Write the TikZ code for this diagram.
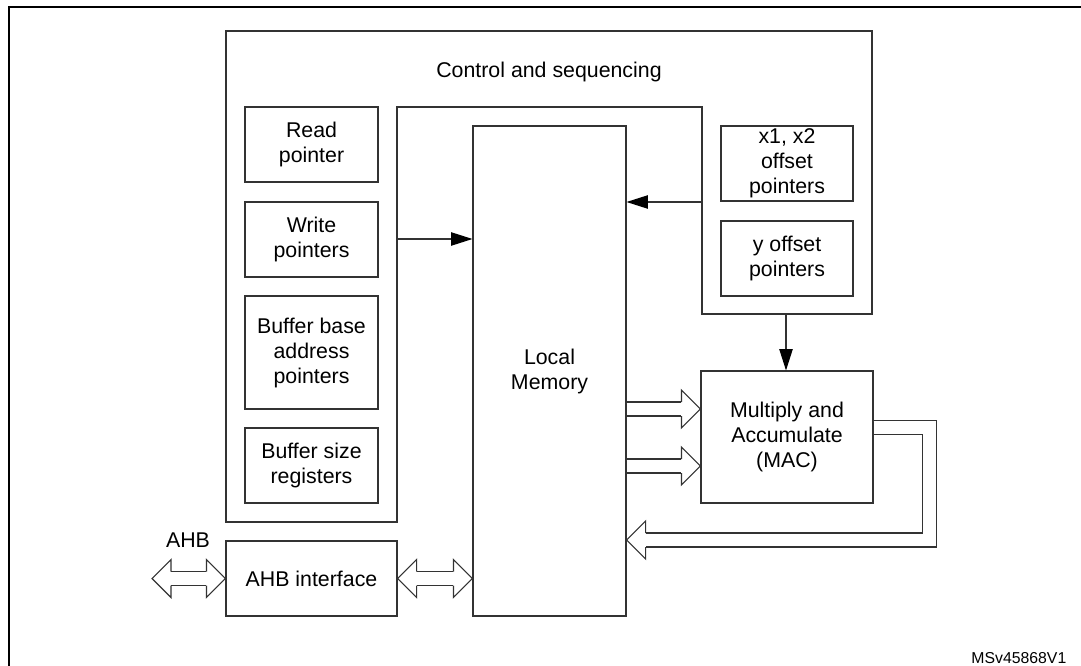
\documentclass[tikz,border=0pt]{standalone}
\usepackage{fontspec}
\setmainfont{Liberation Sans}
\usetikzlibrary{arrows.meta,calc}

\tikzset{
  box/.style={draw=black!80, line width=0.8pt, inner sep=0pt, align=center},
  ptr/.style={draw=black!80, line width=0.8pt, -{Triangle[length=16pt,width=10pt,color=black]}},
  bus/.style={draw=black!80, line width=0.8pt, double=white, double distance=9.7pt},
  head/.style={draw=black!80, line width=0.8pt, line join=miter},
}
% hollow arrow heads, tip pointing right / left
\newcommand{\headR}[1]{\draw[head] ($#1+(-19,7)$) -- ++(0,12) -- #1 -- ++(-19,-19) -- ++(0,12);}
\newcommand{\headL}[1]{\draw[head] ($#1+(19,7)$) -- ++(0,12) -- #1 -- ++(19,-19) -- ++(0,12);}

\begin{document}
\begin{tikzpicture}[x=0.75pt,y=-0.75pt,font=\fontsize{16}{18.75}\selectfont]
	\useasboundingbox (0,0) rectangle (1081,666);
	
	\draw[line width=1.5pt] (1081,7) -- (9,7) -- (9,666);
	
	% control and sequencing
	\draw[draw=black!80, line width=0.8pt] (226,31) -- (872,31) -- (872,314) -- (702,314) -- (702,107) -- (397,107) -- (397,522) -- (226,522) -- cycle;
	\node (ctl) at (549,72) {Control and sequencing};
	
	\node[box, minimum width=99.75pt, minimum height=56.25pt] (rd)   at (311.5,144.5) {Read\\pointer};
	\node[box, minimum width=99.75pt, minimum height=56.25pt] (wr)   at (311.5,239.5) {Write\\pointers};
	\node[box, minimum width=99.75pt, minimum height=84.75pt] (base) at (311.5,352.5) {Buffer base\\address\\pointers};
	\node[box, minimum width=99.75pt, minimum height=56.25pt] (size) at (311.5,465.5) {Buffer size\\registers};
	\node[box, minimum width=99pt, minimum height=56.25pt]    (xoff) at (787,163.5)   {x1, x2\\offset\\pointers};
	\node[box, minimum width=99pt, minimum height=56.25pt]    (yoff) at (787,258.5)   {y offset\\pointers};
	
	\node[box, minimum width=114.75pt, minimum height=367.5pt] (mem) at (549.5,371)   {Local\\Memory};
	\node[box, minimum width=129pt, minimum height=99pt]       (mac) at (787,437)     {Multiply and\\Accumulate\\(MAC)};
	\node[box, minimum width=128.25pt, minimum height=56.25pt] (ahb) at (311.5,578.5) {AHB interface};
	
	\node (bus) at (188,540) {AHB};
	\node[anchor=east, font=\fontsize{11.85}{14}\selectfont] (id) at (1071,658) {MSv45868V1};
	
	% control lines
	\coordinate (cl) at (397,239);
	\coordinate (cr) at (702,202);
	\coordinate (cb) at (786,314);
	\draw[ptr] (cl) -- (mem.west |- cl);
	\draw[ptr] (cr) -- (mem.east |- cr);
	\draw[ptr] (cb) -- (cb |- mac.north);
	
	% data paths
	\coordinate (m1) at (650,409);
	\coordinate (m2) at (650,466);
	\foreach \c in {m1,m2}{
		\draw[bus] (mem.east |- \c) -- ($(mac.west |- \c)+(-19,0)$);
		\headR{(mac.west |- \c)}
	}
	
	\coordinate (fa) at (929.5,427.5);
	\coordinate (fb) at (929.5,540);
	\draw[bus] (mac.east |- fa) -- (fa) -- (fb) -- ($(mem.east |- fb)+(19,0)$);
	\headL{(mem.east |- fb)}
	
	\coordinate (ext) at (152,578.5);
	\draw[bus] ($(ext)+(19,0)$) -- ($(ahb.west)+(-19,0)$);
	\headL{(ext)}
	\headR{(ahb.west)}
	\draw[bus] ($(ahb.east)+(19,0)$) -- ($(mem.west |- ahb.east)+(-19,0)$);
	\headL{(ahb.east)}
	\headR{(mem.west |- ahb.east)}
	
\end{tikzpicture}
\end{document}
